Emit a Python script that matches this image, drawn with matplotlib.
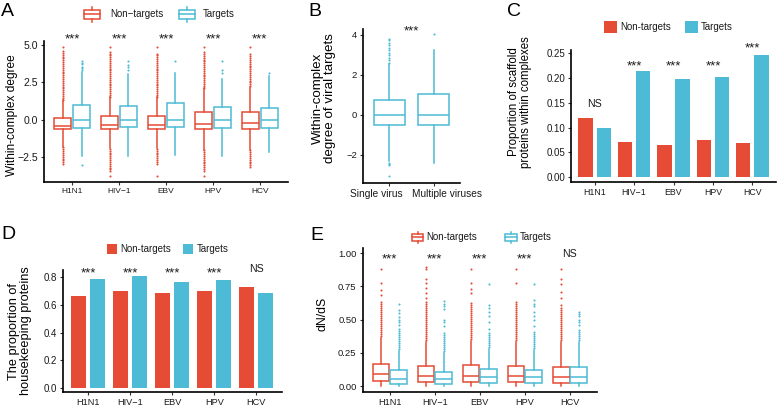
import matplotlib
matplotlib.use('Agg')
import matplotlib.pyplot as plt
from matplotlib.patches import Rectangle
from matplotlib.lines import Line2D
from matplotlib.transforms import offset_copy, ScaledTranslation

plt.rcParams['font.family'] = ['Liberation Sans', 'DejaVu Sans']

# ---------------- data ----------------
viruses = ['H1N1', 'HIV\u22121', 'EBV', 'HPV', 'HCV']
groups_B = ['Single virus', 'Multiple viruses']

# Panel A: within-complex degree (box stats)
A_nt_q1 = [-0.65, -0.63, -0.63, -0.63, -0.63]
A_nt_med = [-0.40, -0.36, -0.36, -0.31, -0.24]
A_nt_q3 = [0.13, 0.25, 0.25, 0.50, 0.54]
A_nt_lo = [-1.80, -1.90, -1.90, -2.00, -2.00]
A_nt_hi = [1.30, 1.50, 1.50, 2.10, 2.20]
A_nt_fliers = [
    [1.35, 1.47, 1.6, 1.72, 1.85, 1.97, 2.1, 2.22, 2.35, 2.47, 2.6, 2.72, 2.85, 2.97, 3.1, 3.22,
     3.35, 3.47, 3.6, 3.72, 3.85, 3.97, 4.1, 4.22, 4.35, 4.48, 4.6, 4.9,
     -1.85, -1.97, -2.1, -2.22, -2.35, -2.47, -2.6, -2.72, -2.85, -2.95],
    [1.55, 1.67, 1.8, 1.92, 2.05, 2.17, 2.3, 2.42, 2.55, 2.67, 2.8, 2.92, 3.05, 3.17, 3.3, 3.42,
     3.55, 3.67, 3.8, 3.92, 4.05, 4.17, 4.3, 4.42, 4.55, 4.9,
     -1.95, -2.07, -2.2, -2.32, -2.45, -2.57, -2.7, -2.82, -2.95, -3.07, -3.2, -3.32, -3.45, -3.75],
    [1.55, 1.67, 1.8, 1.92, 2.05, 2.17, 2.3, 2.42, 2.55, 2.67, 2.8, 2.92, 3.05, 3.17, 3.3, 3.42,
     3.55, 3.67, 3.8, 3.92, 4.05, 4.17, 4.3, 4.42, 4.9,
     -1.95, -2.07, -2.2, -2.32, -2.45, -2.57, -2.7, -2.82, -2.95, -3.75],
    [2.15, 2.27, 2.4, 2.52, 2.65, 2.77, 2.9, 3.02, 3.15, 3.27, 3.4, 3.52, 3.65, 3.77, 3.9, 4.02,
     4.15, 4.27, 4.4, 4.52, 4.9,
     -2.05, -2.17, -2.3, -2.42, -2.55, -2.67, -2.8, -2.92, -3.05, -3.17, -3.3, -3.45, -3.75],
    [2.25, 2.37, 2.5, 2.62, 2.75, 2.87, 3.0, 3.12, 3.25, 3.37, 3.5, 3.62, 3.75, 3.87, 4.0, 4.12,
     4.25, 4.37, 4.9,
     -2.05, -2.17, -2.3, -2.42, -2.55, -2.67, -2.8, -2.92, -3.0, -3.15],
]
A_t_q1 = [-0.54, -0.51, -0.49, -0.53, -0.53]
A_t_med = [0.0, 0.0, 0.0, 0.0, 0.0]
A_t_q3 = [0.98, 0.94, 1.15, 0.83, 0.78]
A_t_lo = [-2.45, -2.41, -2.33, -2.43, -2.14]
A_t_hi = [3.17, 3.05, 3.15, 2.70, 2.90]
A_t_fliers = [
    [3.3, 3.45, 3.55, 3.7, 3.8, 3.95, -3.04],
    [3.3, 3.5, 3.65, 3.95],
    [3.95],
    [3.1, 3.3, 3.93],
    [3.1],
]
A_sig = ['***', '***', '***', '***', '***']

# Panel B: within-complex degree of viral targets
B_q1 = [-0.53, -0.50]
B_med = [0.0, 0.0]
B_q3 = [0.72, 1.03]
B_lo = [-2.30, -2.42]
B_hi = [2.55, 3.25]
B_fliers = [
    [2.6, 2.72, 2.85, 2.97, 3.1, 3.22, 3.35, 3.47, 3.6, 3.72, 3.8, -2.4, -2.45, -2.52, -3.05],
    [4.03],
]

# Panel C: proportion of scaffold proteins
C_nt = [0.120, 0.070, 0.0655, 0.0743, 0.069]
C_t = [0.099, 0.215, 0.199, 0.2014, 0.2466]
C_sig = ['NS', '***', '***', '***', '***']
C_sig_y = [0.149, 0.233, 0.233, 0.233, 0.270]

# Panel D: proportion of housekeeping proteins
D_nt = [0.667, 0.701, 0.684, 0.701, 0.733]
D_t = [0.788, 0.812, 0.764, 0.779, 0.684]
D_sig = ['***', '***', '***', '***', 'NS']

# Panel E: dN/dS
E_nt_q1 = [0.035, 0.030, 0.030, 0.033, 0.025]
E_nt_med = [0.088, 0.075, 0.078, 0.078, 0.070]
E_nt_q3 = [0.168, 0.153, 0.155, 0.153, 0.146]
E_nt_lo = [0.0, 0.0, 0.0, 0.0, 0.0]
E_nt_hi = [0.36, 0.33, 0.34, 0.33, 0.33]
E_nt_fliers = [
    [0.375, 0.39, 0.405, 0.42, 0.435, 0.45, 0.465, 0.48, 0.495, 0.51, 0.525, 0.54, 0.555, 0.57,
     0.585, 0.6, 0.615, 0.63, 0.686, 0.723, 0.776, 0.88],
    [0.345, 0.36, 0.375, 0.39, 0.405, 0.42, 0.435, 0.45, 0.465, 0.48, 0.495, 0.51, 0.525, 0.54,
     0.555, 0.57, 0.585, 0.6, 0.615, 0.63, 0.66, 0.70, 0.74, 0.78, 0.81, 0.88, 0.90],
    [0.355, 0.37, 0.385, 0.4, 0.415, 0.43, 0.445, 0.46, 0.475, 0.49, 0.505, 0.52, 0.535, 0.55,
     0.565, 0.58, 0.595, 0.61, 0.625, 0.70, 0.73, 0.78, 0.88],
    [0.345, 0.36, 0.375, 0.39, 0.405, 0.42, 0.435, 0.45, 0.465, 0.48, 0.495, 0.51, 0.525, 0.54,
     0.555, 0.57, 0.585, 0.6, 0.615, 0.635, 0.774, 0.88],
    [0.345, 0.36, 0.375, 0.39, 0.405, 0.42, 0.435, 0.45, 0.465, 0.48, 0.495, 0.51, 0.525, 0.54,
     0.555, 0.57, 0.585, 0.61, 0.66, 0.71, 0.77, 0.81, 0.88],
]
E_t_q1 = [0.018, 0.013, 0.020, 0.020, 0.020]
E_t_med = [0.053, 0.050, 0.065, 0.065, 0.070]
E_t_q3 = [0.118, 0.108, 0.125, 0.120, 0.146]
E_t_lo = [0.0, 0.0, 0.0, 0.0, 0.0]
E_t_hi = [0.265, 0.25, 0.28, 0.27, 0.33]
E_t_fliers = [
    [0.28, 0.295, 0.31, 0.325, 0.34, 0.355, 0.37, 0.385, 0.4, 0.415, 0.43, 0.46, 0.48, 0.50,
     0.52, 0.55, 0.57, 0.616],
    [0.265, 0.28, 0.295, 0.31, 0.325, 0.34, 0.355, 0.37, 0.385, 0.4, 0.45, 0.48, 0.50, 0.58,
     0.60, 0.62, 0.64],
    [0.295, 0.31, 0.325, 0.34, 0.355, 0.37, 0.385, 0.4, 0.43, 0.48, 0.53, 0.56, 0.59, 0.61, 0.766],
    [0.285, 0.3, 0.315, 0.33, 0.345, 0.36, 0.375, 0.39, 0.41, 0.45, 0.50, 0.53, 0.56, 0.60,
     0.62, 0.648, 0.766],
    [0.345, 0.36, 0.375, 0.39, 0.405, 0.42, 0.46, 0.48, 0.50, 0.53, 0.545, 0.56],
]
E_sig = ['***', '***', '***', '***', 'NS']
E_sig_y = [0.987, 0.987, 0.987, 0.987, 1.004]

# ---------------- style ----------------
RED = '#E64B35'
BLUE = '#4DBBD5'
TXT = '#1a1a1a'
W, H = 777, 408
fig = plt.figure(figsize=(W / 100, H / 100), dpi=100)


def add_ax(l, t, r, b):
    return fig.add_axes([l / W, 1 - b / H, (r - l) / W, (b - t) / H])


def style(ax, ysize, xsize):
    for s in ['top', 'right']:
        ax.spines[s].set_visible(False)
    for s in ['left', 'bottom']:
        ax.spines[s].set_linewidth(1.2)
        ax.spines[s].set_color('black')
    ax.tick_params(length=2.2, width=0.8, pad=2.2, colors='#333333')
    ax.tick_params(axis='y', labelsize=ysize, labelcolor=TXT)
    ax.tick_params(axis='x', labelsize=xsize, labelcolor=TXT)
    ax.set_facecolor('none')


def make_stats(q1, med, q3, lo, hi, fl):
    return [dict(q1=a, med=b, q3=c, whislo=d, whishi=e, fliers=f)
            for a, b, c, d, e, f in zip(q1, med, q3, lo, hi, fl)]


def draw_box(ax, stats, pos, width, color):
    ax.bxp(stats, positions=pos, widths=width, patch_artist=True, showcaps=False,
           manage_ticks=False,
           boxprops=dict(facecolor='white', edgecolor=color, linewidth=1.1),
           medianprops=dict(color=color, linewidth=1.1),
           whiskerprops=dict(color=color, linewidth=1.1),
           flierprops=dict(marker='o', markersize=1.5, markerfacecolor=color,
                           markeredgecolor='none'))


def sig_text(ax, x, y, s, fs=None):
    # y is the visual centre of the glyphs
    if s.startswith('*'):
        fs = fs or 9.5
        frac = 0.59
    else:
        fs = fs or 7.6
        frac = 0.36
    tr = offset_copy(ax.transData, fig=fig, x=0, y=-frac * fs, units='points')
    ax.text(x, y, s, transform=tr, ha='center', va='baseline', fontsize=fs,
            clip_on=False, color=TXT)


pos = list(range(1, 6))

# ---------------- Panel A ----------------
axA = add_ax(44, 41, 288, 182)
draw_box(axA, make_stats(A_nt_q1, A_nt_med, A_nt_q3, A_nt_lo, A_nt_hi, A_nt_fliers),
         [p - 0.2 for p in pos], 0.36, RED)
draw_box(axA, make_stats(A_t_q1, A_t_med, A_t_q3, A_t_lo, A_t_hi, A_t_fliers),
         [p + 0.2 for p in pos], 0.36, BLUE)
axA.set_xlim(0.4, 5.6)
axA.set_ylim(-4.17, 5.27)
axA.set_yticks([-2.5, 0, 2.5, 5.0])
axA.set_yticklabels(['\u22122.5', '0.0', '2.5', '5.0'])
axA.set_xticks(pos)
axA.set_xticklabels(viruses)
style(axA, 7.6, 6.0)
for p, s in zip(pos, A_sig):
    sig_text(axA, p, 5.67, s)

# ---------------- Panel B ----------------
axB = add_ax(363, 29, 460, 183)
draw_box(axB, make_stats(B_q1, B_med, B_q3, B_lo, B_hi, B_fliers), [1, 2], 0.7, BLUE)
axB.set_xlim(0.4, 2.6)
axB.set_ylim(-3.42, 4.28)
axB.set_yticks([-2, 0, 2, 4])
axB.set_yticklabels(['\u22122', '0', '2', '4'])
axB.set_xticks([1, 2])
axB.set_xticklabels(groups_B)
style(axB, 6.8, 7.3)
for lab, off in zip(axB.get_xticklabels(), [-13, 13.5]):
    lab.set_transform(lab.get_transform() + ScaledTranslation(off / 100, 0, fig.dpi_scale_trans))
sig_text(axB, 1.5, 4.42, '***')

# ---------------- Panel C ----------------
axC = add_ax(571, 50, 776, 182)
axC.bar([p - 0.23 for p in pos], C_nt, width=0.36, color=RED)
axC.bar([p + 0.23 for p in pos], C_t, width=0.36, color=BLUE)
axC.set_xlim(0.4, 5.6)
axC.set_ylim(-0.0101, 0.257)
axC.set_yticks([0, 0.05, 0.10, 0.15, 0.20, 0.25])
axC.set_yticklabels(['0.00', '0.05', '0.10', '0.15', '0.20', '0.25'])
axC.set_xticks(pos)
axC.set_xticklabels(viruses)
style(axC, 7.0, 6.3)
for p, s, y in zip(pos, C_sig, C_sig_y):
    sig_text(axC, p, y, s)

# ---------------- Panel D ----------------
axD = add_ax(63, 270, 281.5, 391.7)
axD.bar([p - 0.225 for p in pos], D_nt, width=0.35, color=RED)
axD.bar([p + 0.225 for p in pos], D_t, width=0.35, color=BLUE)
axD.set_xlim(0.4, 5.6)
axD.set_ylim(-0.029, 0.853)
axD.set_yticks([0, 0.2, 0.4, 0.6, 0.8])
axD.set_yticklabels(['0.0', '0.2', '0.4', '0.6', '0.8'])
axD.set_xticks(pos)
axD.set_xticklabels(viruses)
style(axD, 7.0, 6.6)
for p, s in zip(pos, D_sig):
    sig_text(axD, p, 0.866, s)

# ---------------- Panel E ----------------
axE = add_ax(362.7, 248, 597, 392)
draw_box(axE, make_stats(E_nt_q1, E_nt_med, E_nt_q3, E_nt_lo, E_nt_hi, E_nt_fliers),
         [p - 0.195 for p in pos], 0.37, RED)
draw_box(axE, make_stats(E_t_q1, E_t_med, E_t_q3, E_t_lo, E_t_hi, E_t_fliers),
         [p + 0.195 for p in pos], 0.37, BLUE)
axE.set_xlim(0.4, 5.6)
axE.set_ylim(-0.045, 1.04)
axE.set_yticks([0, 0.25, 0.5, 0.75, 1.0])
axE.set_yticklabels(['0.00', '0.25', '0.50', '0.75', '1.00'])
axE.set_xticks(pos)
axE.set_xticklabels(viruses)
style(axE, 6.8, 6.6)
for p, s, y in zip(pos, E_sig, E_sig_y):
    sig_text(axE, p, y, s)

# ---------------- overlay: labels & legends ----------------
ov = fig.add_axes([0, 0, 1, 1], zorder=10)
ov.set_xlim(0, W)
ov.set_ylim(H, 0)
ov.axis('off')

for letter, x, y in [('A', 1, 11.7), ('B', 308, 11.7), ('C', 506.5, 11.7),
                     ('D', 1.5, 234.5), ('E', 310, 235.5)]:
    ov.text(x, y, letter, fontsize=14, ha='left', va='center', color='black')

ylabels = [
    ('Within-complex degree', 12.5, 115, 8.6),
    ('Within-complex\ndegree of viral targets', 324, 98.5, 9.6),
    ('Proportion of scaffold\nproteins within complexes', 520.5, 102, 8.3),
    ('The proportion of\nhousekeeping proteins', 20, 331, 9.2),
    ('dN/dS', 322.5, 314, 8.8),
]
for txt, x, y, fs in ylabels:
    ov.text(x, y, txt, rotation=90, ha='center', va='center', fontsize=fs,
            linespacing=1.0, color='black')


def box_icon(x0, yc, w, h, color):
    hb = h * 0.62
    ov.add_patch(Rectangle((x0, yc - hb / 2), w, hb, facecolor='white', edgecolor=color,
                           linewidth=1.1))
    ov.add_line(Line2D([x0, x0 + w], [yc, yc], color=color, linewidth=1.1))
    ov.add_line(Line2D([x0 + w / 2, x0 + w / 2], [yc - h / 2, yc - hb / 2], color=color,
                       linewidth=1.1))
    ov.add_line(Line2D([x0 + w / 2, x0 + w / 2], [yc + hb / 2, yc + h / 2], color=color,
                       linewidth=1.1))


def square_icon(x0, yc, s, color):
    ov.add_patch(Rectangle((x0, yc - s / 2), s, s, facecolor=color, edgecolor='none'))


LFS = 7.0
# A legend
box_icon(83.5, 14.3, 16.5, 15, RED)
ov.text(110, 14.3, 'Non\u2212targets', fontsize=LFS, ha='left', va='center', color=TXT)
box_icon(178.5, 14.3, 16.5, 15, BLUE)
ov.text(203, 14.3, 'Targets', fontsize=LFS, ha='left', va='center', color=TXT)

# C legend
square_icon(604, 27, 12.5, RED)
ov.text(620.5, 27, 'Non-targets', fontsize=LFS, ha='left', va='center', color=TXT)
square_icon(685, 27, 12.5, BLUE)
ov.text(700.5, 27, 'Targets', fontsize=LFS, ha='left', va='center', color=TXT)

# D legend
square_icon(107, 249, 9.5, RED)
ov.text(120, 249, 'Non-targets', fontsize=LFS, ha='left', va='center', color=TXT)
square_icon(183, 249, 9.5, BLUE)
ov.text(197, 249, 'Targets', fontsize=LFS, ha='left', va='center', color=TXT)

# E legend
box_icon(411.7, 237.3, 11.6, 11.5, RED)
ov.text(426.5, 237.3, 'Non-targets', fontsize=LFS, ha='left', va='center', color=TXT)
box_icon(505, 237.3, 11.6, 11.5, BLUE)
ov.text(520, 237.3, 'Targets', fontsize=LFS, ha='left', va='center', color=TXT)

fig.savefig('out.png', dpi=100, facecolor='white')
